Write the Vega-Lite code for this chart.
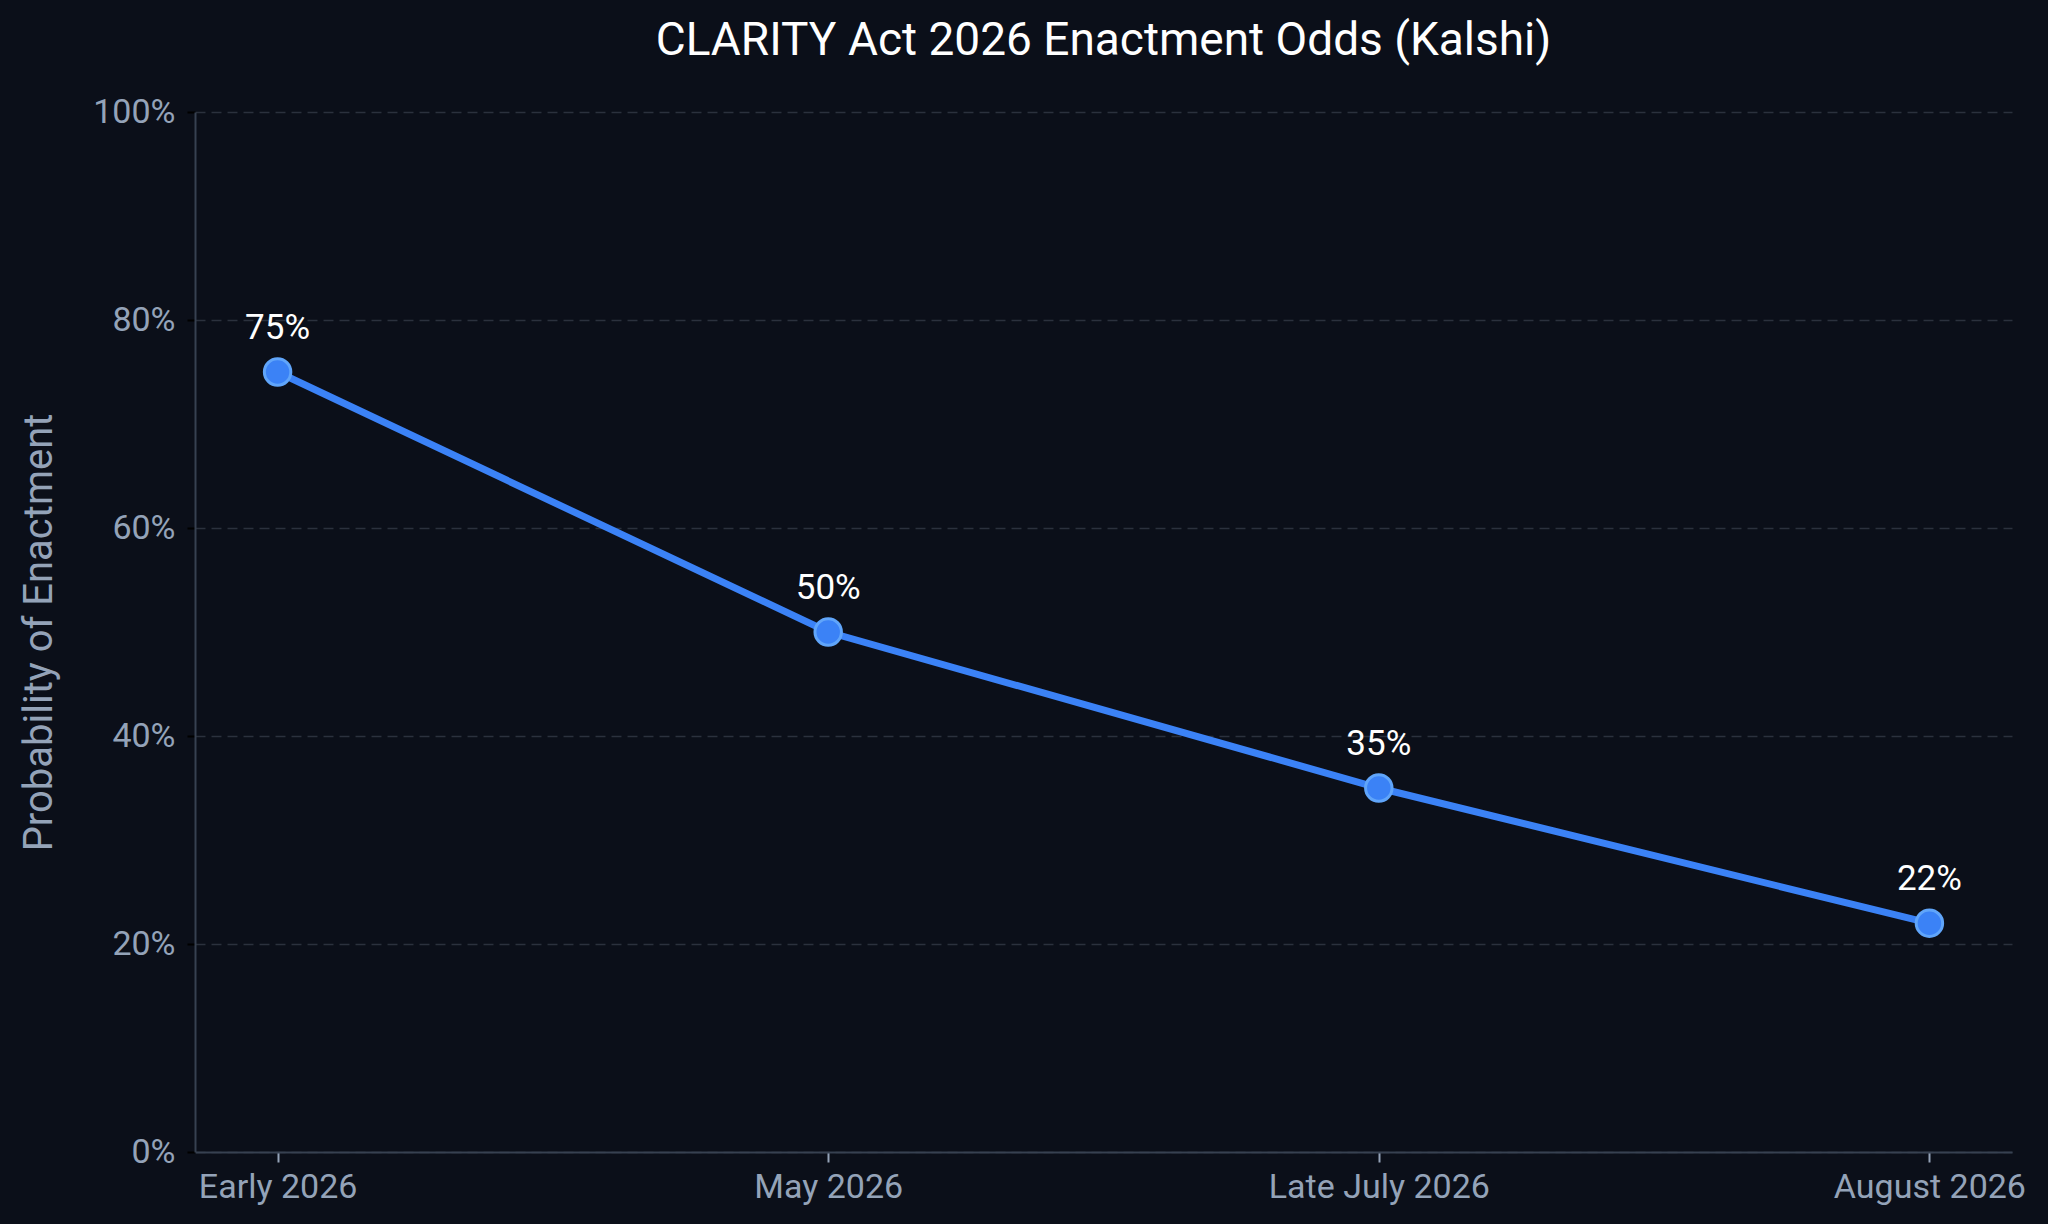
{
  "$schema": "https://vega.github.io/schema/vega-lite/v6.json",
  "autosize": {"type": "none"},
  "width": 1817,
  "height": 1040,
  "padding": {"left": 195, "top": 112, "right": 36, "bottom": 72},
  "background": "#0b0f19",
  "config": {
    "font": "Roboto",
    "view": {"stroke": null}
  },
  "title": {
    "text": "CLARITY Act 2026 Enactment Odds (Kalshi)",
    "color": "#ffffff",
    "fontSize": 46,
    "fontWeight": "normal",
    "anchor": "middle",
    "offset": 30
  },
  "data": {
    "values": [
      {"period": "Early 2026", "prob": 0.75},
      {"period": "May 2026", "prob": 0.50},
      {"period": "Late July 2026", "prob": 0.35},
      {"period": "August 2026", "prob": 0.22}
    ]
  },
  "encoding": {
    "x": {
      "field": "period",
      "type": "ordinal",
      "sort": null,
      "scale": {"type": "point", "padding": 0.15},
      "title": null,
      "axis": {
        "labelAngle": 0,
        "labelFontSize": 34,
        "labelLimit": 400,
        "labelColor": "#94a3b8",
        "labelPadding": 8,
        "domainColor": "#374151",
        "domainWidth": 2,
        "tickColor": "#94a3b8",
        "tickSize": 10,
        "tickWidth": 2,
        "grid": false
      }
    },
    "y": {
      "field": "prob",
      "type": "quantitative",
      "scale": {"domain": [0, 1]},
      "title": "Probability of Enactment",
      "axis": {
        "format": ".0%",
        "values": [0, 0.2, 0.4, 0.6, 0.8, 1],
        "labelFontSize": 34,
        "labelColor": "#94a3b8",
        "labelPadding": 12,
        "titleFontSize": 40,
        "titleFontWeight": "normal",
        "titleColor": "#94a3b8",
        "titlePadding": 33,
        "domainColor": "#374151",
        "domainWidth": 2,
        "tickColor": "#000000",
        "tickSize": 8,
        "tickWidth": 2,
        "gridColor": "#2b313d",
        "gridDash": [10, 6],
        "gridWidth": 1.5
      }
    }
  },
  "layer": [
    {
      "mark": {"type": "line", "color": "#3b82f6", "strokeWidth": 7}
    },
    {
      "mark": {"type": "point", "filled": true, "fill": "#3b82f6", "stroke": "#60a5fa", "strokeWidth": 3, "size": 700, "opacity": 1}
    },
    {
      "mark": {"type": "text", "color": "#ffffff", "fontSize": 35, "dy": -44},
      "encoding": {
        "text": {"field": "prob", "type": "quantitative", "format": ".0%"}
      }
    }
  ]
}
